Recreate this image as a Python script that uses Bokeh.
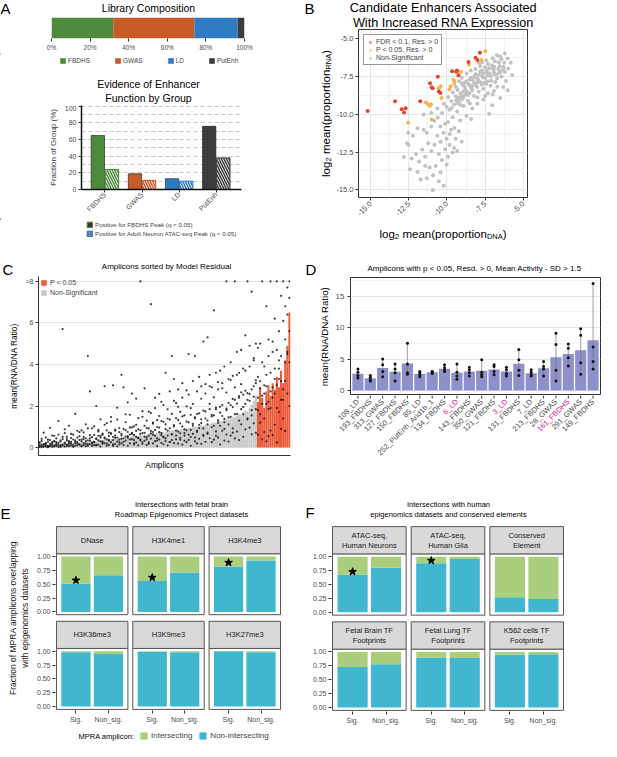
import math
import numpy as np
from bokeh.plotting import figure
from bokeh.layouts import row, column
from bokeh.models import (Range1d, FixedTicker, Label, LabelSet, ColumnDataSource,
                          Legend, LegendItem, NumeralTickFormatter, Plot)
from bokeh.embed import file_html
from bokeh.resources import INLINE
from bokeh.core.properties import value

FONT = "Liberation Sans"
TICK = "#4d4d4d"
AX = "#333333"

# ======================= DATA =======================
# Panel A
lib_groups = ["FBDHS", "GWAS", "LD", "PutEnh"]
lib_share = [32.0, 42.0, 22.5, 3.5]
lib_ticks = [0, 20, 40, 60, 80, 100]
evid_fbdhs_peak = [65, 19, 13, 76]
evid_atac_peak = [24, 11, 10, 38]
evid_ticks = [0, 20, 40, 60, 80, 100]

# Panel B  (log2 mean proportion DNA, log2 mean proportion RNA)
b_fdr = [(-15.2, -9.8), (-13.4, -9.15), (-12.97, -9.68), (-12.82, -9.89), (-12.71, -9.62),
         (-11.75, -9.15), (-11.11, -7.96), (-11.0, -8.23), (-10.94, -8.3), (-10.6, -7.53),
         (-10.53, -8.51), (-10.43, -8.6), (-9.66, -7.17), (-9.4, -7.21), (-9.34, -7.13),
         (-9.25, -7.45), (-8.59, -6.57), (-8.12, -6.28), (-8.01, -6.43), (-7.84, -5.96)]
b_p05 = [(-12.54, -10.57), (-11.39, -9.23), (-11.22, -9.36), (-11.11, -9.45), (-11.05, -9.36),
         (-11.0, -10.36), (-10.53, -8.3), (-10.41, -8.17), (-10.36, -8.94), (-9.83, -8.38),
         (-9.76, -8.17), (-9.57, -7.74), (-9.51, -7.87), (-9.19, -7.28), (-9.08, -7.21),
         (-8.55, -6.74), (-7.74, -6.43), (-7.48, -5.83)]
b_ns = [(-6.02, -6.33), (-6.24, -6.61), (-6.43, -6.38), (-6.31, -7.05), (-6.55, -6.84), (-6.62, -7.31),
        (-6.86, -6.52), (-6.71, -7.63), (-6.93, -7.12), (-7.04, -6.77), (-7.12, -7.52), (-7.25, -6.98),
        (-7.33, -7.84), (-7.41, -7.27), (-7.52, -6.91), (-7.63, -7.58), (-7.72, -8.04), (-7.81, -7.19),
        (-7.94, -7.73), (-8.03, -8.21), (-8.12, -7.37), (-8.21, -7.92), (-8.34, -8.43), (-8.42, -7.61),
        (-8.51, -8.12), (-8.63, -8.74), (-8.72, -7.83), (-8.81, -8.27), (-8.93, -8.91), (-9.02, -7.98),
        (-9.11, -8.63), (-9.22, -9.18), (-9.31, -8.41), (-9.42, -8.82), (-9.53, -9.37), (-9.61, -8.58),
        (-9.72, -9.13), (-9.83, -9.71), (-9.91, -8.87), (-10.02, -9.52), (-6.13, -7.81), (-6.32, -8.22),
        (-6.51, -8.93), (-6.92, -8.47), (-7.03, -9.41), (-7.31, -8.62), (-7.62, -9.03), (-7.24, -9.98),
        (-8.01, -9.32), (-8.33, -9.63), (-6.72, -6.12), (-7.01, -6.31), (-7.42, -6.47), (-7.83, -6.82),
        (-8.13, -7.02), (-8.44, -7.13), (-8.71, -7.32), (-9.03, -7.61), (-9.21, -7.83), (-9.52, -8.02),
        (-7.53, -7.92), (-7.14, -8.13), (-6.83, -7.88), (-7.92, -8.52), (-8.23, -8.81), (-8.62, -9.12),
        (-8.91, -9.47), (-9.33, -9.82), (-9.62, -10.21), (-9.93, -10.52), (-10.21, -9.31), (-10.32, -9.92),
        (-10.13, -10.63), (-9.52, -10.91), (-9.13, -10.42), (-8.72, -10.13), (-8.41, -10.32),
        (-9.82, -11.31), (-10.43, -10.82), (-10.61, -10.23), (-6.42, -7.52), (-6.63, -7.03),
        (-7.71, -7.12), (-8.02, -7.63), (-8.83, -7.91), (-9.41, -8.22), (-7.32, -7.43), (-7.61, -8.32),
        (-8.52, -8.63), (-9.01, -9.02), (-7.93, -6.62), (-8.32, -7.73), (-8.92, -8.12), (-9.32, -9.03),
        (-7.43, -8.02), (-6.91, -7.32), (-6.21, -7.23), (-5.82, -6.62), (-5.73, -7.42), (-6.02, -8.43),
        (-10.22, -11.23), (-10.03, -11.62), (-10.42, -11.83), (-10.63, -11.42), (-9.83, -12.03),
        (-10.12, -12.32), (-10.53, -12.63), (-10.82, -12.02), (-10.33, -13.03), (-9.92, -12.82),
        (-10.73, -13.42), (-11.02, -12.43), (-11.22, -11.93), (-11.43, -12.82), (-11.62, -12.33),
        (-11.13, -13.52), (-11.83, -13.12), (-12.02, -12.63), (-12.32, -12.92), (-12.52, -12.03),
        (-12.63, -11.92), (-12.42, -13.63), (-11.93, -13.82), (-11.32, -14.23), (-10.92, -14.03),
        (-10.42, -13.83), (-10.02, -13.32), (-9.63, -12.53), (-9.42, -11.63), (-9.22, -11.13),
        (-10.93, -15.02), (-10.22, -14.73), (-11.73, -14.32), (-12.83, -12.83), (-12.23, -11.42),
        (-11.53, -11.03), (-11.03, -10.82), (-11.93, -10.93), (-12.53, -11.23), (-9.53, -12.23),
        (-10.63, -9.63), (-11.03, -9.93), (-11.53, -10.03), (-10.83, -10.43), (-11.33, -11.23),
        (-9.73, -11.03), (-9.03, -11.83), (-9.33, -12.43), (-10.53, -14.43), (-11.43, -13.43),
        (-6.6, -6.6), (-6.9, -6.9), (-7.2, -7.3), (-7.5, -7.6), (-7.8, -7.9), (-8.1, -8.1), (-8.4, -8.3),
        (-8.7, -8.5), (-9.0, -8.8), (-9.3, -9.3), (-6.5, -7.2), (-6.8, -7.4), (-7.1, -7.8), (-7.4, -7.1),
        (-7.7, -7.5), (-8.0, -7.9), (-8.3, -8.1), (-8.6, -8.0), (-8.9, -8.5), (-9.2, -8.9), (-7.0, -7.0),
        (-7.3, -6.7), (-7.6, -7.3), (-7.9, -7.4), (-8.2, -7.5), (-8.5, -7.7), (-8.8, -8.7), (-9.1, -9.4),
        (-9.4, -9.1), (-9.7, -9.6), (-6.3, -6.9), (-6.0, -7.0), (-6.7, -8.2), (-7.0, -8.7), (-7.5, -8.8),
        (-8.0, -8.9), (-8.5, -9.3), (-6.2, -6.0), (-6.5, -6.2), (-7.7, -6.6)]
b_ticks = [-15.0, -12.5, -10.0, -7.5, -5.0]
b_minor = [-13.75, -11.25, -8.75, -6.25]

# Panel C  (amplicons sorted by model residual)
c_gray_means = [0.10, 0.12, 0.09, 0.14, 0.11, 0.13, 0.15, 0.12, 0.16, 0.14,
                0.18, 0.15, 0.17, 0.20, 0.19, 0.22, 0.18, 0.24, 0.21, 0.23,
                0.26, 0.24, 0.28, 0.27, 0.30, 0.29, 0.33, 0.31, 0.35, 0.34,
                0.37, 0.36, 0.40, 0.38, 0.42, 0.41, 0.45, 0.43, 0.47, 0.46,
                0.50, 0.48, 0.53, 0.51, 0.55, 0.54, 0.58, 0.57, 0.61, 0.60,
                0.63, 0.62, 0.66, 0.65, 0.69, 0.68, 0.72, 0.71, 0.75, 0.74,
                0.78, 0.77, 0.81, 0.80, 0.84, 0.83, 0.87, 0.86, 0.90, 0.93,
                0.92, 0.96, 0.95, 0.99, 1.02, 1.00, 1.05, 1.08, 1.06, 1.11,
                1.14, 1.12, 1.18, 1.21, 1.19, 1.25, 1.29, 1.27, 1.33, 1.38,
                1.35, 1.42, 1.48, 1.45, 1.55, 1.62, 1.58, 1.70, 1.78, 1.74,
                1.90, 2.05, 2.25, 2.50]
c_red_means = [2.2, 2.9, 2.4, 1.9, 2.7, 3.0, 2.5, 3.1, 2.8, 3.4, 2.9, 3.7, 3.1, 4.2, 4.9, 6.5]
c_reps = [(0.03, 0.21, 0.08), (0.14, 0.02, 0.31), (0.06, 0.17, 0.72), (0.22, 0.05, 0.12), (0.09, 0.38, 0.02),
          (0.18, 0.07, 0.95), (0.04, 0.26, 0.13), (0.31, 0.11, 0.57), (0.08, 0.44, 0.19), (0.23, 0.03, 1.28),
          (0.12, 0.35, 0.06), (0.41, 5.70, 0.09), (0.05, 0.19, 0.88), (0.33, 0.14, 0.52), (0.07, 1.05, 0.24),
          (0.46, 0.10, 0.28), (0.15, 0.62, 0.04), (0.28, 0.09, 1.62), (0.11, 0.48, 0.20), (0.37, 0.16, 0.74),
          (0.06, 0.83, 0.30), (0.52, 0.13, 0.41), (0.19, 1.12, 0.07), (0.09, 4.40, 0.35), (0.44, 2.70, 0.16),
          (0.24, 0.08, 0.93), (0.61, 0.27, 0.12), (0.10, 2.00, 0.45), (0.35, 0.14, 0.78), (0.56, 1.36, 0.05),
          (0.18, 0.67, 0.29), (2.95, 0.22, 0.48), (0.40, 0.09, 1.18), (0.13, 0.72, 0.33), (0.65, 0.26, 1.47),
          (0.08, 3.00, 0.51), (0.47, 0.17, 0.86), (0.29, 1.92, 0.06), (0.74, 0.38, 0.15), (0.21, 3.50, 0.58),
          (2.90, 0.45, 0.12), (0.34, 0.84, 1.60), (0.09, 0.55, 2.18), (0.63, 0.20, 0.97), (2.60, 0.41, 0.71),
          (0.15, 1.02, 0.36), (0.52, 2.36, 0.24), (0.88, 0.11, 0.47), (8.50, 0.39, 0.66), (0.27, 1.48, 0.18),
          (0.71, 0.33, 2.85), (0.12, 0.94, 0.50), (0.58, 1.73, 0.25), (6.90, 0.43, 0.80), (0.20, 1.15, 0.62),
          (0.85, 0.31, 2.40), (0.45, 0.07, 1.32), (0.96, 2.58, 0.39), (0.23, 0.70, 2.20), (1.24, 0.52, 0.16),
          (3.60, 0.31, 0.89), (0.58, 1.40, 0.10), (0.27, 2.70, 0.93), (4.40, 0.64, 0.36), (1.08, 3.30, 0.22),
          (0.40, 0.82, 2.15), (1.33, 0.19, 2.80), (0.69, 1.72, 0.47), (0.14, 3.10, 1.02), (1.55, 0.58, 0.33),
          (0.83, 2.75, 0.26), (4.50, 0.37, 1.21), (0.51, 1.90, 0.09), (1.14, 3.20, 0.66), (0.30, 4.40, 1.46),
          (1.62, 0.75, 0.20), (0.94, 3.40, 0.42), (0.18, 1.36, 2.95), (5.10, 0.61, 1.78), (1.40, 0.28, 3.05),
          (0.72, 5.30, 1.12), (2.10, 0.45, 3.50), (0.26, 1.58, 2.90), (6.60, 1.05, 0.38), (1.84, 0.57, 3.60),
          (0.49, 3.15, 1.31), (1.96, 0.15, 3.70), (0.81, 2.85, 1.52), (3.90, 1.22, 0.34), (8.60, 0.63, 1.87),
          (1.45, 3.30, 0.29), (0.58, 4.10, 2.05), (2.34, 0.92, 3.45), (9.00, 1.61, 0.44), (0.77, 4.60, 2.12),
          (2.48, 0.36, 3.60), (1.12, 4.70, 2.66), (0.52, 3.80, 1.95), (2.74, 5.40, 0.88), (8.80, 1.36, 2.30),
          (0.96, 4.90, 2.58), (7.50, 1.80, 0.64), (2.95, 4.20, 1.17), (0.71, 5.00, 3.24),
          (4.80, 0.62, 2.40), (1.20, 5.00, 2.85), (8.80, 0.40, 2.10), (2.60, 3.90, 0.75), (0.30, 6.80, 2.95),
          (5.20, 1.85, 0.55), (2.70, 9.00, 0.82), (0.60, 4.60, 2.90), (6.20, 1.10, 3.30), (3.00, 0.25, 8.50),
          (4.20, 1.70, 3.80), (0.90, 7.30, 3.20), (8.90, 2.30, 1.40), (4.10, 6.80, 0.80), (7.70, 2.60, 4.50),
          (9.50, 5.60, 2.00)]
c_reps_more = [(0.11, 0.26), (0.07, 0.42), (0.15, 0.05), (0.19, 0.48), (0.02, 0.27), (0.10, 0.36), (0.21, 0.58),
               (0.05, 0.30), (0.26, 0.14), (0.12, 0.63), (0.29, 0.04), (0.16, 0.52), (0.24, 0.70), (0.08, 0.41),
               (0.31, 0.17), (0.20, 0.66), (0.06, 0.39), (0.35, 0.22), (0.27, 0.81), (0.14, 0.55), (0.38, 0.09),
               (0.22, 0.73), (0.45, 0.31), (0.17, 0.92), (0.33, 0.60), (0.50, 0.20), (0.26, 1.02), (0.41, 0.13),
               (0.57, 0.85), (0.30, 0.48), (0.62, 0.24), (0.44, 1.10), (0.19, 0.83), (0.55, 0.37), (0.70, 1.25),
               (0.36, 0.16), (0.81, 0.58), (0.48, 1.35), (0.25, 0.94), (0.66, 0.42), (0.90, 0.28), (0.53, 1.22),
               (0.75, 0.47), (0.39, 1.58), (0.97, 0.66), (0.60, 0.21), (1.10, 0.80), (0.46, 1.42), (0.83, 0.35),
               (0.70, 1.75), (1.05, 0.52), (0.40, 1.30), (0.92, 0.18), (0.68, 1.66), (1.20, 0.75), (0.57, 1.90),
               (0.99, 0.34), (0.74, 1.52), (1.28, 0.60), (0.50, 2.05), (1.12, 0.44), (0.82, 1.84), (1.35, 0.27),
               (0.64, 1.62), (1.02, 2.25), (1.42, 0.58), (0.77, 1.96), (1.16, 0.38), (1.50, 2.40), (0.88, 0.70),
               (1.25, 1.98), (0.62, 2.55), (1.58, 0.85), (1.05, 2.10), (1.40, 0.48), (0.80, 2.70), (1.65, 1.10),
               (1.18, 2.35), (0.92, 0.56), (1.74, 2.60), (1.30, 0.66), (1.85, 2.95), (0.98, 1.50), (1.55, 2.42),
               (1.92, 0.78), (1.20, 2.80), (1.68, 1.05), (2.05, 3.10), (1.38, 0.90), (1.80, 2.65), (2.15, 1.12),
               (1.48, 3.25), (1.95, 0.72), (2.30, 2.90), (1.62, 3.50), (2.40, 1.30), (1.85, 3.05), (2.55, 1.60),
               (2.10, 3.70), (2.62, 1.40), (2.25, 3.90), (2.80, 1.55), (2.45, 4.30), (3.10, 1.85),
               (1.80, 3.40), (3.20, 1.60), (2.50, 4.10), (1.40, 3.00), (3.50, 2.10), (2.20, 4.40), (3.60, 1.90),
               (2.40, 5.10), (3.80, 2.60), (1.90, 4.70), (3.30, 5.60), (4.40, 2.30), (2.80, 6.10), (5.20, 3.20),
               (4.60, 6.40), (7.20, 4.10)]
c_ticks = [0, 2, 4, 6, 8]
c_cap = 8

# Panel D
d_labels = ["108_LD", "193_FBDHS", "313_GWAS", "127_FBDHS", "150_FBDHS", "85_LD",
            "252_PutEnh_Arid1b_1", "134_FBDHS", "6_LD", "143_FBDHS", "350_GWAS", "121_FBDHS",
            "3_LD", "131_FBDHS", "7_LD", "213_FBDHS", "28_GWAS", "161_FBDHS", "291_GWAS", "149_FBDHS"]
d_highlight = ["6_LD", "3_LD", "161_FBDHS"]
d_reps = [[2.0, 2.4, 2.9, 3.4], [1.5, 1.7, 2.1, 2.4], [2.2, 3.0, 4.1, 5.0], [1.5, 2.8, 3.4, 4.2],
          [2.6, 2.8, 4.2, 7.5], [2.2, 2.5, 2.8, 3.0], [2.7, 2.9, 3.0, 3.0], [3.0, 3.2, 3.6, 4.1],
          [1.8, 2.3, 2.9, 4.2], [2.3, 2.8, 3.3, 3.7], [2.2, 2.5, 2.9, 4.9], [2.5, 3.0, 3.8, 4.1],
          [2.3, 2.7, 3.3, 3.7], [2.4, 3.2, 4.9, 6.5], [2.3, 2.5, 2.9, 3.3], [2.3, 3.4, 3.8, 4.6],
          [1.5, 3.2, 7.3, 9.1], [3.9, 5.2, 6.7, 7.4], [2.6, 4.4, 8.8, 9.8], [3.4, 4.6, 6.9, 17.0]]
d_ticks = [0, 5, 10, 15]
d_minor = [2.5, 7.5, 12.5, 17.5]

# Panels E / F  (fraction non-intersecting; remainder intersecting)
e_names = ["DNase", "H3K4me1", "H3K4me3", "H3K36me3", "H3K9me3", "H3K27me3"]
e_sig = [0.51, 0.56, 0.82, 0.98, 0.99, 1.00]
e_non = [0.66, 0.71, 0.93, 0.95, 0.98, 0.98]
e_star = [0.57, 0.62, 0.89, None, None, None]
f_names = ["ATAC-seq,\nHuman Neurons", "ATAC-seq,\nHuman Glia", "Conserved\nElement",
           "Fetal Brain TF\nFootprints", "Fetal Lung TF\nFootprints", "K562 cells TF\nFootprints"]
f_sig = [0.68, 0.88, 0.27, 0.73, 0.90, 0.95]
f_non = [0.80, 0.96, 0.24, 0.78, 0.89, 0.96]
f_star = [0.73, 0.93, None, None, None, None]
facet_ticks = [0.0, 0.25, 0.5, 0.75, 1.0]
facet_xlabels = ["Sig.", "Non_sig."]

# ======================= STYLE =======================
COL_GROUP = ["#4e8a3b", "#c85a27", "#2f7bc3", "#3b3b3b"]
B_RED, B_ORG, B_GRY = "#e2452f", "#f6b64c", "#c2c2c2"
C_RED, C_GRY = "#ee5b3b", "#c9c9c9"
D_BAR, D_MAG = "#8d90cb", "#e0218a"
GREEN, BLUE, STRIP, PBORDER = "#a9cf7c", "#41b6cf", "#d9d9d9", "#555555"

FA = {"frame_align": False} if "frame_align" in Plot.properties() else {}


def base_fig(w, h, xr, yr, L, R, T, B):
    p = figure(width=w, height=h, x_range=xr, y_range=yr, output_backend="svg",
               toolbar_location=None, min_border_left=L, min_border_right=R,
               min_border_top=T, min_border_bottom=B, **FA)
    p.outline_line_color = None
    p.xgrid.grid_line_color = None
    p.ygrid.grid_line_color = None
    p.background_fill_color = "white"
    p.border_fill_color = "white"
    for ax in p.axis:
        ax.major_label_text_font = FONT
        ax.axis_label_text_font = FONT
        ax.axis_label_text_font_style = "normal"
        ax.axis_label_text_color = "black"
        ax.major_label_text_color = TICK
        ax.minor_tick_line_color = None
        ax.major_tick_in = 0
        ax.major_tick_out = 3
        ax.major_tick_line_color = AX
        ax.axis_line_color = None
        ax.major_label_standoff = 2
        ax.axis_label_standoff = 4
    return p


def text_fig(w, h, items, x_range=None):
    """A figure whose frame is the whole canvas; y runs downward in pixels."""
    p = figure(width=w, height=h, x_range=x_range or Range1d(0, w), y_range=Range1d(h, 0),
               output_backend="svg", toolbar_location=None, min_border=0,
               x_axis_location=None, y_axis_location=None, **FA)
    p.outline_line_color = None
    p.xgrid.visible = False
    p.ygrid.visible = False
    p.background_fill_color = "white"
    p.border_fill_color = "white"
    for it in items:
        x, y, text, size = it[:4]
        opt = it[4] if len(it) > 4 else {}
        p.add_layout(Label(x=x, y=y, text=text, text_font=FONT, text_font_size=f"{size}px",
                           text_align=opt.get("align", "center"),
                           text_baseline=opt.get("baseline", "middle"),
                           angle=opt.get("angle", 0.0), text_color=opt.get("color", "black")))
    return p


def legend_fig(w, h, items, entries, loc, orientation, **kw):
    """Legend-only strip; the key renderers hold one point placed off the canvas."""
    p = text_fig(w, h, items)
    li = []
    for label, style in entries:
        r = p.vbar(x=[-50], bottom=[0], top=[1], width=1, **style)
        li.append(LegendItem(label=label, renderers=[r]))
    p.add_layout(Legend(items=li, location=loc, orientation=orientation, margin=0, padding=0,
                        border_line_color=None, background_fill_alpha=0, label_text_font=FONT, **kw))
    return p


LT = {"align": "left", "baseline": "top"}
LB = {"align": "left", "baseline": "alphabetic"}
LM = {"align": "left", "baseline": "middle"}
A90 = math.pi / 2
LBV = {"align": "left", "baseline": "alphabetic", "angle": A90}

# ======================= PANEL A =======================
hdrA1 = text_fig(292, 17, [(0, -1, "A", 15, LT), (148, 7, "Library Composition", 10.5)])
pA1 = base_fig(292, 36, Range1d(0, 100), Range1d(0, 1), 51, 48, 0, 11)
rights = np.cumsum(lib_share)
lefts = rights - np.array(lib_share)
pA1.hbar(y=[0.5] * len(lib_groups), left=lefts, right=rights, height=1.0,
         fill_color=COL_GROUP, line_color=None)
pA1.yaxis.visible = False
pA1.xaxis.ticker = FixedTicker(ticks=lib_ticks)
pA1.xaxis.major_label_overrides = {t: f"{t}%" for t in lib_ticks}
pA1.xaxis.major_label_text_font_size = "6.5px"
legA1 = legend_fig(292, 20, [], [(g, {"fill_color": c, "line_color": None})
                                 for g, c in zip(lib_groups, COL_GROUP)],
                   (59, 9), "horizontal", label_text_font_size="6.5px", glyph_width=7,
                   glyph_height=7, label_height=8, label_width=0, label_standoff=2, spacing=24)

hdrA2 = text_fig(292, 32, [(148, 10, "Evidence of Enhancer", 10.5), (148, 24, "Function by Group", 10.5)])
pA2 = base_fig(292, 113, Range1d(0.37, 4.68), Range1d(0, 101), 81, 51, 0, 24)
gx = np.arange(1, len(lib_groups) + 1)
pA2.ygrid.ticker = FixedTicker(ticks=list(range(10, 101, 10)))
pA2.ygrid.grid_line_color = "#c8c8c8"
pA2.ygrid.grid_line_dash = "4 3"
pA2.vbar(x=gx - 0.19, top=evid_fbdhs_peak, width=0.36, fill_color=COL_GROUP,
         line_color="#1a1a1a", line_width=0.6)
pA2.vbar(x=gx + 0.19, top=evid_atac_peak, width=0.36, fill_color="white", line_color=COL_GROUP,
         line_width=1, hatch_pattern=value("\\"), hatch_color=COL_GROUP, hatch_scale=5, hatch_weight=1.5)
pA2.yaxis.ticker = FixedTicker(ticks=evid_ticks)
pA2.yaxis.major_label_text_font_size = "7px"
pA2.yaxis.axis_line_color = "#111111"
pA2.yaxis.axis_line_width = 1.5
pA2.yaxis.axis_label = "Fraction of Group (%)"
pA2.yaxis.axis_label_text_font_size = "8px"
pA2.yaxis.axis_label_text_color = "#333333"
pA2.xaxis.ticker = FixedTicker(ticks=[int(v) for v in gx])
pA2.xaxis.major_label_overrides = {int(i): g for i, g in zip(gx, lib_groups)}
pA2.xaxis.major_label_orientation = math.pi / 4
pA2.xaxis.major_label_text_font_size = "7px"
pA2.xaxis.major_label_standoff = 1
pA2.xaxis.axis_line_color = "#111111"
pA2.xaxis.axis_line_width = 1.5
legA2 = legend_fig(292, 40, [], [("Positive for FBDHS Peak (q < 0.05)",
                                  {"fill_color": "#3a3a3a", "line_color": "#4e8a3b"}),
                                 ("Positive for Adult Neuron ATAC-seq Peak (q < 0.05)",
                                  {"fill_color": "#f2e6a0", "line_color": "#3b6fb6",
                                   "hatch_pattern": value("\\"), "hatch_color": "#3b6fb6",
                                   "hatch_scale": 3, "hatch_weight": 1.2})],
                   (86, 21), "vertical", label_text_font_size="6.2px", glyph_width=7, glyph_height=7,
                   label_height=8, label_standoff=2, spacing=1)
colA = column(hdrA1, pA1, legA1, hdrA2, pA2, legA2)

# ======================= PANEL B =======================
hdrB = text_fig(309, 28, [(12, -1, "B", 15, LT),
                          (151, 7, "Candidate Enhancers Associated", 12.7),
                          (151, 22, "With Increased RNA Expression", 12.7)])
ylabB = text_fig(40, 230, [(33, 148.5, "log", 11.5, LBV), (36, 133.2, "2", 8, LBV),
                           (33, 125.5, "mean(proportion", 11.5, LBV), (36, 41.1, "RNA", 7.5, LBV),
                           (33, 25.3, ")", 11.5, LBV)])
pB = base_fig(269, 193, Range1d(-15.8, -4.72), Range1d(-15.5, -4.42), 26, 74, 1, 22)
pB.outline_line_color = "#333333"
pB.outline_line_width = 1
for ax, grid in ((pB.xaxis, pB.xgrid), (pB.yaxis, pB.ygrid)):
    tk = FixedTicker(ticks=b_ticks, minor_ticks=b_minor)
    ax.ticker = tk
    ax.formatter = NumeralTickFormatter(format="0.0")
    ax.major_label_text_font_size = "7.5px"
    ax.major_label_standoff = 1
    grid.ticker = tk
    grid.grid_line_color = "#e6e6e6"
    grid.minor_grid_line_color = "#f3f3f3"
pB.xaxis.major_label_orientation = math.pi / 4
pB.scatter([p[0] for p in b_ns], [p[1] for p in b_ns], size=4, fill_color=B_GRY, line_color=None)
pB.scatter([p[0] for p in b_p05], [p[1] for p in b_p05], size=4, fill_color=B_ORG, line_color=None)
pB.scatter([p[0] for p in b_fdr], [p[1] for p in b_fdr], size=4, fill_color=B_RED, line_color=None)
# larger legend keys (one point each, outside the visible range)
kF = pB.scatter([-100], [-100], size=6, fill_color=B_RED, line_color=None, fill_alpha=0.75)
kP = pB.scatter([-100], [-100], size=6, fill_color=B_ORG, line_color=None, fill_alpha=0.75)
kN = pB.scatter([-100], [-100], size=6, fill_color=B_GRY, line_color=None, fill_alpha=0.9)
legB = Legend(items=[LegendItem(label="FDR < 0.1, Res. > 0", renderers=[kF]),
                     LegendItem(label="P < 0.05, Res. > 0", renderers=[kP]),
                     LegendItem(label="Non-Significant", renderers=[kN])],
              location="top_left", label_text_font=FONT, label_text_font_size="7px",
              glyph_width=6, glyph_height=6, label_height=7, label_standoff=3, spacing=1,
              padding=3, margin=5, border_line_color="#333333", border_line_width=1)
pB.add_layout(legB)
footB = text_fig(269, 37, [(47, 12, "log", 11.5, LB), (62.3, 15, "2", 8, LB),
                           (70.0, 12, "mean(proportion", 11.5, LB), (154.4, 15, "DNA", 7.5, LB),
                           (170.2, 12, ")", 11.5, LB)])
colB = column(hdrB, row(ylabB, column(pB, footB)))

# ======================= PANEL C =======================
hdrC = text_fig(292, 18, [(2, 2, "C", 15, LT), (166, 8, "Amplicons sorted by Model Residual", 8)])
n_gray = len(c_gray_means)
n_all = n_gray + len(c_red_means)
pC = base_fig(292, 218, Range1d(-0.5, n_all - 0.5), Range1d(-0.38, 8.23), 38, 2, 0, 39)
rCg = pC.vbar(x=list(range(n_gray)), top=c_gray_means, width=1.0, fill_color=C_GRY, line_color=None)
rCr = pC.vbar(x=list(range(n_gray, n_all)), top=c_red_means, width=1.0, fill_color=C_RED, line_color=None)
all_reps = [tuple(a) + tuple(b) for a, b in zip(c_reps, c_reps_more)]
dot_x = [i for i, reps in enumerate(all_reps) for _ in reps]
dot_y = [min(v, c_cap) for reps in all_reps for v in reps]
pC.scatter(dot_x, dot_y, size=2.2, fill_color="#1a1a1a", line_color=None, fill_alpha=0.85)
pC.ygrid.grid_line_color = "#e6e6e6"
pC.yaxis.ticker = FixedTicker(ticks=c_ticks)
pC.yaxis.major_label_overrides = {c_cap: ">8"}
pC.yaxis.major_label_text_font_size = "7px"
pC.yaxis.axis_line_color = AX
pC.yaxis.axis_label = "mean(RNA/DNA Ratio)"
pC.yaxis.axis_label_text_font_size = "8.3px"
pC.xaxis.ticker = FixedTicker(ticks=[])
pC.xaxis.axis_line_color = AX
pC.xaxis.axis_label = "Amplicons"
pC.xaxis.axis_label_text_font_size = "8.3px"
legC = Legend(items=[LegendItem(label="P < 0.05", renderers=[rCr]),
                     LegendItem(label="Non-Significant", renderers=[rCg])],
              location="top_left", label_text_font=FONT, label_text_font_size="7px",
              glyph_width=7, glyph_height=7, label_height=9, label_standoff=3, spacing=1,
              padding=1, margin=2, border_line_color=None, background_fill_alpha=0)
pC.add_layout(legC)
colC = column(hdrC, pC)

# ======================= PANEL D =======================
hdrD = text_fig(309, 19, [(13, 2, "D", 15, LT),
                          (182, 10, "Amplicons with p < 0.05, Resd. > 0, Mean Activity - SD > 1.5", 8)])
ylabD = text_fig(38, 118, [(32, 59, "mean(RNA/DNA Ratio)", 9.7, {"angle": A90})])
nD = len(d_labels)
pD = base_fig(271, 118, Range1d(0.4, nD + 0.6), Range1d(-0.64, 17.97), 20, 1, 0, 1)
pD.xaxis.visible = False
pD.outline_line_color = "#333333"
pD.outline_line_width = 1
dx = list(range(1, nD + 1))
d_mean = [float(np.mean(r)) for r in d_reps]
d_lo = [min(r) for r in d_reps]
d_hi = [max(r) for r in d_reps]
tkD = FixedTicker(ticks=d_ticks, minor_ticks=d_minor)
pD.yaxis.ticker = tkD
pD.ygrid.ticker = tkD
pD.ygrid.grid_line_color = "#e6e6e6"
pD.ygrid.minor_grid_line_color = "#f3f3f3"
pD.vbar(x=dx, top=d_mean, width=0.9, fill_color=D_BAR, line_color=None)
pD.segment(x0=dx, y0=d_lo, x1=dx, y1=d_hi, line_color="#777777", line_alpha=0.6, line_width=1.2)
pD.scatter([x for x, r in zip(dx, d_reps) for _ in r], [v for r in d_reps for v in r],
           size=3, fill_color="#111111", line_color=None)
pD.yaxis.major_label_text_font_size = "8px"
# category labels below the panel, on a strip that shares the panel's horizontal scale
D_UPX = (nD + 0.2) / 250.0
dlab = text_fig(309, 99, [], x_range=Range1d(0.4 - 58 * D_UPX, nD + 0.6 + 1 * D_UPX))
dlab.scatter(dx, [1.5] * nD, marker="dash", angle=A90, size=3, line_color=AX, line_width=1)
d_colors = [D_MAG if l in d_highlight else TICK for l in d_labels]
dlab.add_layout(LabelSet(x="x", y="y", text="t", text_color="c",
                         source=ColumnDataSource(dict(x=dx, y=[5] * nD, t=d_labels, c=d_colors)),
                         angle=math.pi / 4, text_align="right", text_baseline="middle",
                         text_font=value(FONT), text_font_size="7.5px"))
colD = column(hdrD, row(ylabD, pD), dlab)

# ======================= PANELS E / F =======================
FW, FG, SH, RG = 2.2, 0.15, 0.49, 0.12
ROFF = 1.05 + SH + RG + 0.05


def facet_fig(w, h, L, R, T, B, names, sig, non, stars, ylab=None):
    p = base_fig(w, h, Range1d(0.37, 0.43 + 3 * FW + 2 * FG),
                 Range1d(-0.07, ROFF + 1.07 + SH), L, R, T, B)
    bx, bb, bt, gb = [], [], [], []
    px0, px1, py0, py1, sy1, tx, ty, stx, sty = [], [], [], [], [], [], [], [], []
    for k in range(len(names)):
        c, r = k % 3, k // 3
        xo = c * (FW + FG)
        yo = ROFF if r == 0 else 0.0
        for j, v in enumerate([sig[k], non[k]]):
            bx.append(xo + 1 + j)
            bb.append(yo)
            bt.append(yo + v)
            gb.append(yo + 1.0)
        px0.append(xo + 0.4)
        px1.append(xo + 2.6)
        py0.append(yo - 0.05)
        py1.append(yo + 1.05)
        sy1.append(yo + 1.05 + SH)
        tx.append(xo + 1.5)
        ty.append(yo + 1.05 + SH / 2)
        if stars[k] is not None:
            stx.append(xo + 1)
            sty.append(yo + stars[k])
    p.vbar(x=bx, bottom=bb, top=bt, width=0.9, fill_color=BLUE, line_color=None)
    p.vbar(x=bx, bottom=bt, top=gb, width=0.9, fill_color=GREEN, line_color=None)
    p.quad(left=px0, right=px1, bottom=py0, top=py1, fill_color=None, line_color=PBORDER, line_width=1)
    p.quad(left=px0, right=px1, bottom=py1, top=sy1, fill_color=STRIP, line_color=PBORDER, line_width=1)
    p.text(x=tx, y=ty, text=names, text_font=value(FONT), text_font_size=value("7.5px"),
           text_align="center", text_baseline="middle", text_color="#1a1a1a", text_line_height=1.1)
    p.scatter(stx, sty, marker="star", size=8, fill_color="black", line_color="black")
    yt = [round(yo + t, 4) for yo in (0.0, ROFF) for t in facet_ticks]
    p.yaxis.ticker = FixedTicker(ticks=yt)
    p.yaxis.major_label_overrides = {round(yo + t, 4): f"{t:.2f}" for yo in (0.0, ROFF) for t in facet_ticks}
    p.yaxis.major_label_text_font_size = "7px"
    xt = [round(c * (FW + FG) + 1 + j, 4) for c in range(3) for j in range(2)]
    p.xaxis.ticker = FixedTicker(ticks=xt)
    p.xaxis.major_label_overrides = {round(c * (FW + FG) + 1 + j, 4): facet_xlabels[j]
                                     for c in range(3) for j in range(2)}
    p.xaxis.major_label_text_font_size = "7px"
    if ylab:
        p.yaxis.axis_label = ylab
        p.yaxis.axis_label_text_font_size = "8.5px"
        p.yaxis.axis_label_text_color = "#1a1a1a"
    return p


hdrE = text_fig(292, 31, [(0, 10, "E", 15, LT), (181, 10, "Intersections with fetal brain", 7.5),
                          (181, 20, "Roadmap Epigenomics Project datasets", 7.5)])
pE = facet_fig(292, 200, 55, 11, 0, 14, e_names, e_sig, e_non, e_star,
               ylab="Fraction of MPRA amplicons overlapping\nwith epigenomics datasets")
legE = legend_fig(292, 16, [(78, 10.5, "MPRA amplicon:", 7.5, LM)],
                  [("Intersecting", {"fill_color": GREEN, "line_color": None}),
                   ("Non-intersecting", {"fill_color": BLUE, "line_color": None})],
                  (139, 1), "horizontal", label_text_font_size="8px", glyph_width=9, glyph_height=9,
                  label_height=9, label_width=0, label_standoff=3, spacing=6)
hdrF = text_fig(309, 31, [(13, 9, "F", 15, LT), (156, 10, "Intersections with human", 7.5),
                          (156, 20, "epigenomics datasets and conserved elements", 7.5)])
pF = facet_fig(309, 216, 39, 37, 0, 30, f_names, f_sig, f_non, f_star)

# ======================= LAYOUT =======================
layout = column(row(colA, colB), row(colC, colD),
                row(column(hdrE, pE, legE), column(hdrF, pF)))
open("out.html", "w").write(file_html(layout, INLINE))
